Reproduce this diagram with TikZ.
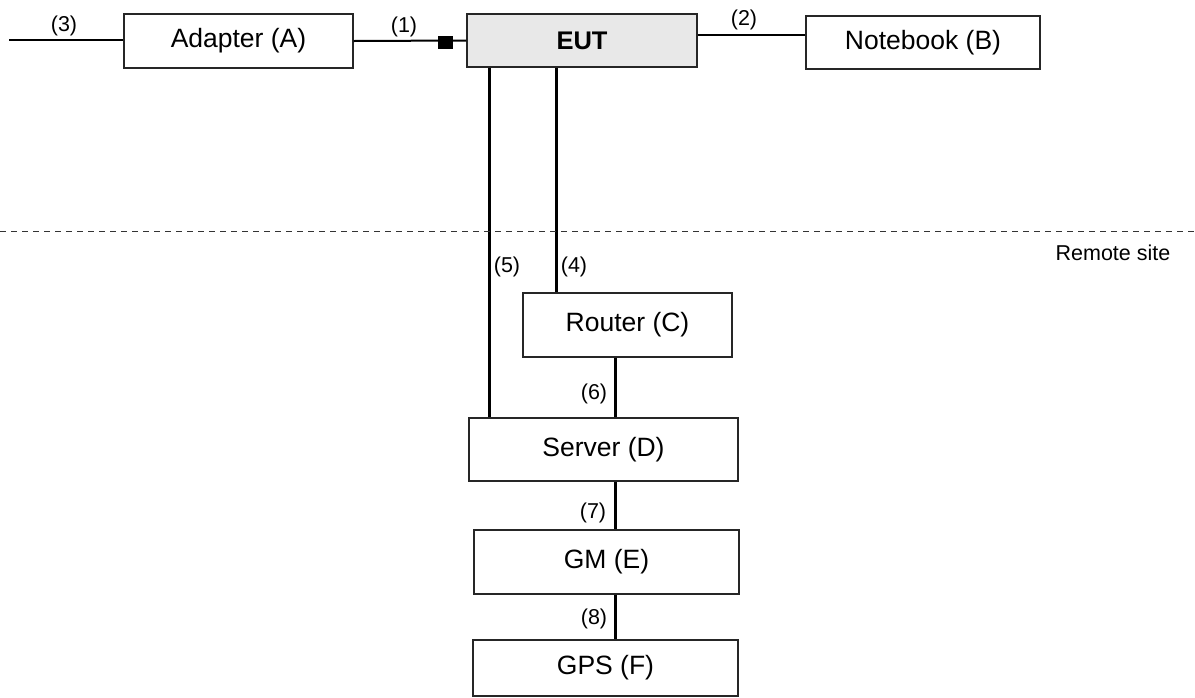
\documentclass[tikz,border=0pt]{standalone}
\usepackage{fontspec}
\setmainfont{Liberation Sans}
\begin{document}
\begin{tikzpicture}[x=1pt,y=-1pt,
  box/.style={draw=black!85,line width=1.3pt,fill=white,inner sep=0pt,font=\fontsize{26.5}{30}\selectfont},
  conn/.style={line width=2pt,black},
  vconn/.style={line width=3pt,black},
  lbl/.style={font=\fontsize{21.5}{24}\selectfont,inner sep=0pt}]
\useasboundingbox (0,0) rectangle (1195,697);
% boxes
\node[box,minimum width=229pt,minimum height=54pt] (A) at (238.5,41) {Adapter (A)};
\node[box,fill=black!9,minimum width=230pt,minimum height=53pt,font=\fontsize{25.5}{30}\selectfont\bfseries] (EUT) at (582,40.5) {EUT};
\node[box,minimum width=234pt,minimum height=53pt] (B) at (923,42.5) {Notebook (B)};
\node[box,minimum width=209pt,minimum height=64pt] (C) at (627.5,325) {Router (C)};
\node[box,minimum width=269pt,minimum height=63pt] (D) at (603.5,449.5) {Server (D)};
\node[box,minimum width=265pt,minimum height=64pt] (E) at (606.5,562) {GM (E)};
\node[box,minimum width=265pt,minimum height=56pt] (F) at (605.5,668) {GPS (F)};
% coordinates
\coordinate (c3) at (9,40);
\coordinate (x5) at (489,0);
\coordinate (x4) at (556,0);
\coordinate (x6) at (615,0);
\coordinate (dl) at (0,231);
\coordinate (dr) at (1195,231);
% connectors
\draw[conn] (c3) -- (A.west |- c3);
\draw[conn] (A.east) -- (EUT.west);
\node[fill=black,minimum width=15pt,minimum height=13pt,inner sep=0pt] (sq) at (445.5,42) {};
\draw[conn] ([yshift=5.5pt]EUT.east) -- ([yshift=7.5pt]B.west);
\draw[vconn] (EUT.south -| x5) -- (D.north -| x5);
\draw[vconn] (EUT.south -| x4) -- (C.north -| x4);
\draw[vconn] (C.south -| x6) -- (D.north -| x6);
\draw[vconn] (D.south -| x6) -- (E.north -| x6);
\draw[vconn] (E.south -| x6) -- (F.north -| x6);
% dashed separator
\draw[line width=1pt,dash pattern=on 6pt off 5pt,black!80] (dl) -- (dr);
% labels
\node[lbl] (l3) at (64,26) {(3)};
\node[lbl] (l1) at (404,27) {(1)};
\node[lbl] (l2) at (744,20) {(2)};
\node[lbl] (l5) at (507,267) {(5)};
\node[lbl] (l4) at (574,267) {(4)};
\node[lbl] (l6) at (594,394) {(6)};
\node[lbl] (l7) at (593,513) {(7)};
\node[lbl] (l8) at (594,619) {(8)};
\node[lbl] (rs) at (1113,253) {Remote site};
\end{tikzpicture}
\end{document}
